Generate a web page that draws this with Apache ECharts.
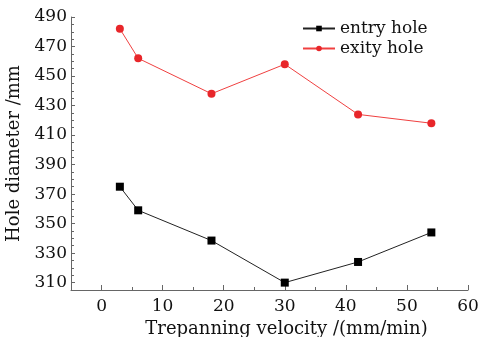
<!DOCTYPE html>
<html>
<head>
<meta charset="utf-8">
<script src="https://cdn.jsdelivr.net/npm/echarts@6/dist/echarts.min.js"></script>
<style>
html, body { margin: 0; padding: 0; background: #fff; }
#main { width: 480px; height: 337px; }
</style>
</head>
<body>
<div id="main"></div>
<script>
var velocity = [3, 6, 18, 30, 42, 54];
var entryHole = [375, 359, 338.5, 310, 324, 344];
var exityHole = [482, 462, 438, 458, 424, 418];
var xTicks = [0, 10, 20, 30, 40, 50, 60];
var xMinorTicks = [5, 15, 25, 35, 45, 55];
var yTicks = [310, 330, 350, 370, 390, 410, 430, 450, 470, 490];
var yMinorTicks = [];
for (var t = 315; t < 490; t += 5) {
    if (yTicks.indexOf(t) < 0) yMinorTicks.push(t);
}

var font = 'DejaVu Serif';

function pairs(xs, ys) {
    return xs.map(function(x, i) { return [x, ys[i]]; });
}

var chart = echarts.init(document.getElementById('main'));
var option = {
    backgroundColor: '#fff',
    animation: false,
    grid: { left: 71, right: 12, top: 17, bottom: 47, outerBoundsMode: 'none' },
    legend: {
        top: 15,
        left: 297,
        orient: 'vertical',
        itemGap: 3,
        itemWidth: 32,
        itemHeight: 7,
        textStyle: { fontFamily: font, fontSize: 17, color: '#111' },
        data: ['entry hole', 'exity hole']
    },
    xAxis: [{
        type: 'value',
        min: -5,
        max: 60,
        name: 'Trepanning velocity /(mm/min)',
        nameLocation: 'middle',
        nameGap: 25,
        nameTextStyle: { fontFamily: font, fontSize: 18, color: '#111', padding: [0, 0, 0, 34] },
        axisLine: { onZero: false, lineStyle: { color: '#666', width: 1 } },
        axisTick: { inside: true, length: 5, customValues: xTicks, lineStyle: { color: '#666' } },
        axisLabel: { customValues: xTicks, fontFamily: font, fontSize: 17, color: '#111', margin: 8 },
        splitLine: { show: false }
    }, {
        type: 'value',
        min: -5,
        max: 60,
        position: 'bottom',
        axisLine: { show: false, onZero: false },
        axisTick: { inside: true, length: 3, customValues: xMinorTicks, lineStyle: { color: '#666' } },
        axisLabel: { show: false },
        splitLine: { show: false }
    }],
    yAxis: [{
        type: 'value',
        min: 305,
        max: 490,
        name: 'Hole diameter /mm',
        nameLocation: 'middle',
        nameGap: 43,
        nameTextStyle: { fontFamily: font, fontSize: 18, color: '#111' },
        axisLine: { show: true, onZero: false, lineStyle: { color: '#666', width: 1 } },
        axisTick: { inside: true, length: 4, customValues: yTicks, lineStyle: { color: '#666' } },
        axisLabel: { customValues: yTicks, fontFamily: font, fontSize: 17, color: '#111', margin: 4 },
        splitLine: { show: false }
    }, {
        type: 'value',
        min: 305,
        max: 490,
        position: 'left',
        axisLine: { show: false, onZero: false },
        axisTick: { show: true, inside: true, length: 3, customValues: yMinorTicks, lineStyle: { color: '#666' } },
        axisLabel: { show: false },
        splitLine: { show: false }
    }],
    series: [{
        name: 'entry hole',
        type: 'line',
        data: pairs(velocity, entryHole),
        symbol: 'rect',
        symbolSize: 8,
        itemStyle: { color: '#000' },
        lineStyle: { color: '#222', width: 1 }
    }, {
        name: 'exity hole',
        type: 'line',
        data: pairs(velocity, exityHole),
        symbol: 'circle',
        symbolSize: 8,
        itemStyle: { color: '#e8262a' },
        lineStyle: { color: '#f04040', width: 1 }
    }]
};
chart.setOption(option);
</script>
</body>
</html>
